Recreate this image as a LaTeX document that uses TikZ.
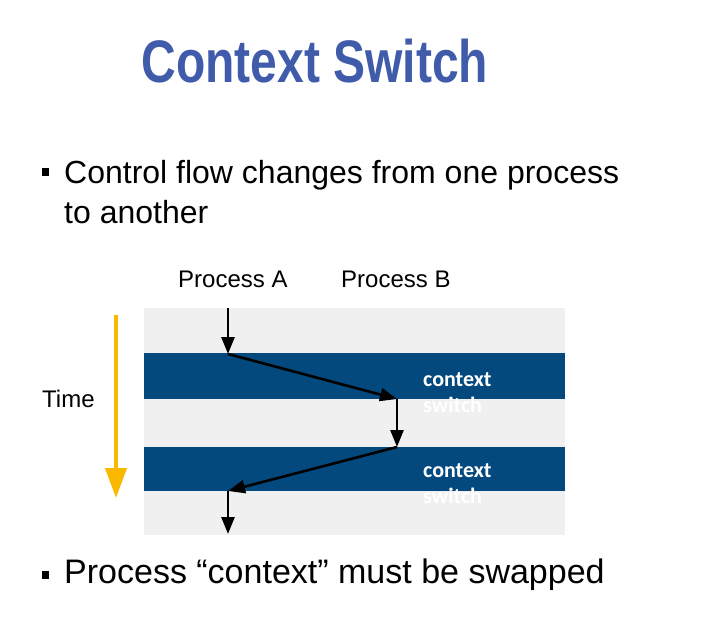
\documentclass[tikz,border=0pt]{standalone}
\usepackage{fontspec}
\setmainfont{Liberation Sans}
\newfontfamily\carl{Carlito}
\usetikzlibrary{arrows.meta}
\definecolor{titleblue}{RGB}{63,91,170}
\definecolor{bandblue}{RGB}{3,73,126}
\definecolor{panelgray}{RGB}{240,240,240}
\definecolor{timeorange}{RGB}{250,185,0}
\begin{document}
\begin{tikzpicture}[x=1pt,y=-1pt,
  body/.style={anchor=base west,inner sep=0pt,font=\fontsize{32}{38}\selectfont},
  lbl/.style={anchor=base west,inner sep=0pt,font=\fontsize{24}{28}\selectfont},
  cs/.style={anchor=base west,inner sep=0pt,text=white,font=\carl\bfseries\fontsize{22}{26}\selectfont},
  bul/.style={fill=black,minimum width=7pt,minimum height=8pt,inner sep=0pt},
  flow/.style={line width=2.6pt,-{Triangle[length=17pt,width=13pt]}},
  band/.style={fill=bandblue}
  ]
\useasboundingbox (0,0) rectangle (721,626);
\fill[white] (0,0) rectangle (721,626);
% title
\node[anchor=base,inner sep=0pt,text=titleblue,font=\bfseries\fontsize{60}{70}\selectfont] (title) at (315,83) {\scalebox{0.8}[1]{Context Switch}};
% bullet 1
\node[bul] (b1) at (45.5,172) {};
\node[body] (t1) at (64,183) {Control flow changes from one process};
\node[body] (t2) at (64,223) {to another};
% panel
\fill[panelgray] (144,308) rectangle (565,535);
\fill[band] (144,353) rectangle (565,399);
\fill[band] (144,447) rectangle (565,491);
% labels
\node[lbl] (pa) at (178,287) {Process A};
\node[lbl] (pb) at (341,287) {Process B};
\node[lbl] (time) at (42,407) {Time};
\node[cs] (cs1) at (423,386) {context};
\node[cs] (sw1) at (423,412) {switch};
\node[cs] (cs2) at (423,477) {context};
\node[cs] (sw2) at (423,503) {switch};
% flow
\coordinate (a0) at (228,308);
\coordinate (a1) at (228,354);
\coordinate (b1p) at (397,399);
\coordinate (b2p) at (397,447);
\coordinate (a2) at (228,491);
\coordinate (a3) at (228,534);
\draw[flow] (a0) -- (a1);
\draw[flow] (a1) -- (b1p);
\draw[flow] (b1p) -- (b2p);
\draw[flow] (b2p) -- (a2);
\draw[flow] (a2) -- (a3);
% time arrow
\coordinate (t0) at (116,315);
\coordinate (t1e) at (116,498);
\draw[timeorange,line width=4.5pt,-{Triangle[length=30pt,width=21pt]}] (t0) -- (t1e);
% bullet 2
\node[bul] (b2) at (45.5,575) {};
\node[body,font=\fontsize{34}{40}\selectfont] (t3) at (64,583) {Process “context” must be swapped};
\end{tikzpicture}
\end{document}
